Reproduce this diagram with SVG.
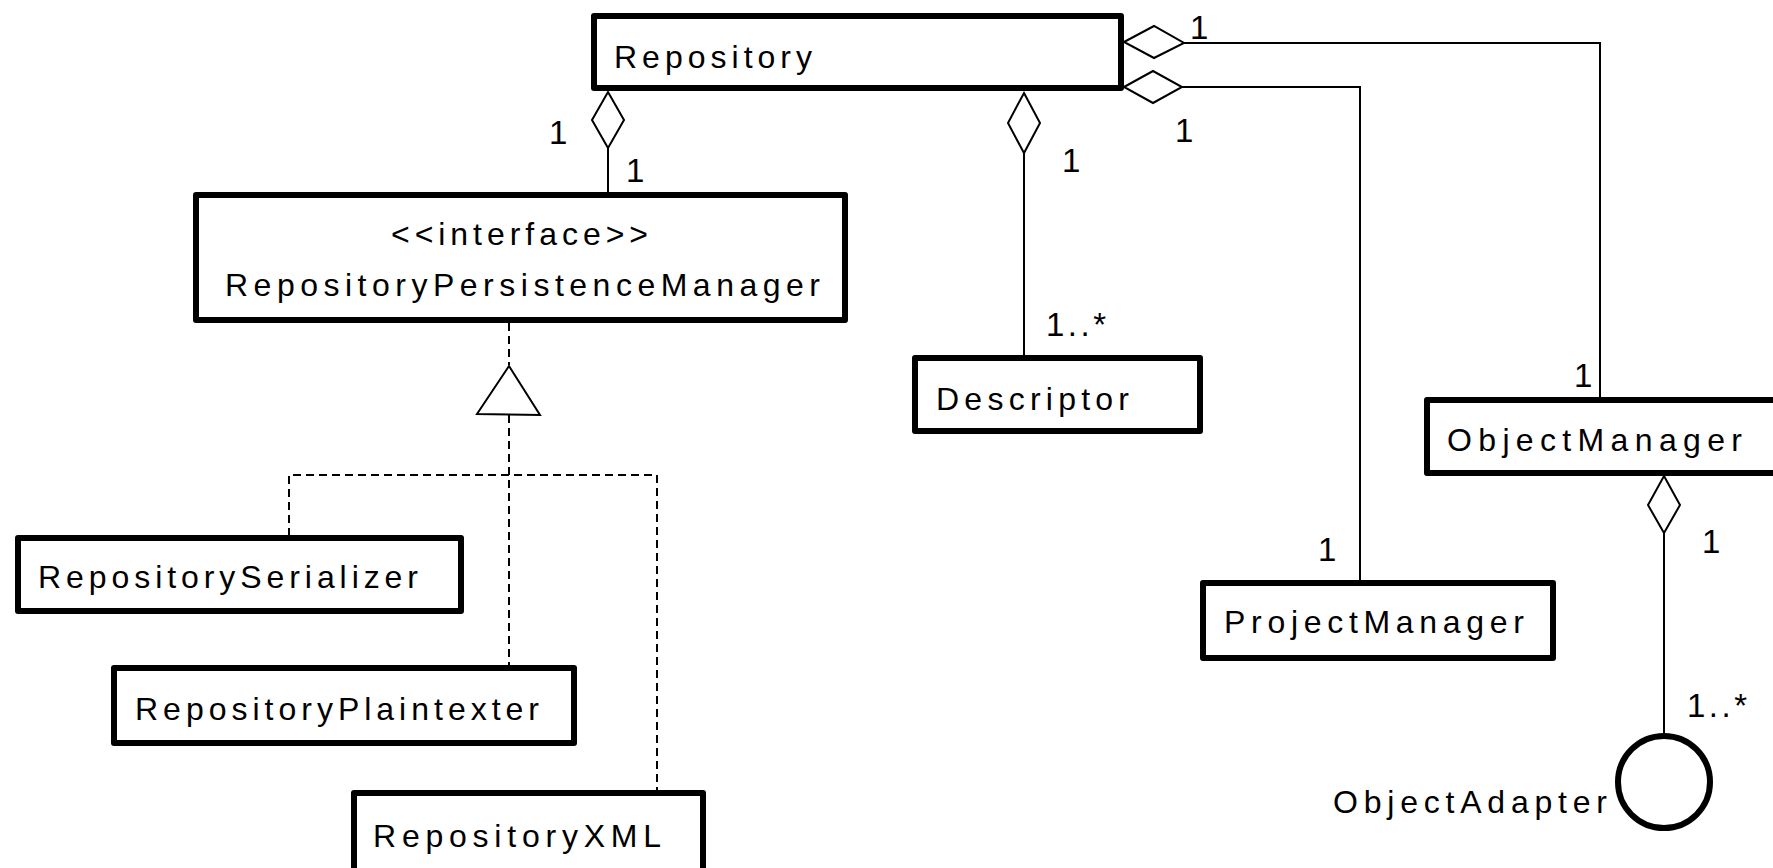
<svg xmlns="http://www.w3.org/2000/svg" width="1773" height="868" viewBox="0 0 1773 868">
  <style>
    .box { fill: #fff; stroke: #000; stroke-width: 6; stroke-linejoin: round; }
    .lbl { font-family: "Liberation Sans", Arial, sans-serif; font-size: 32px; fill: #000; }
    .mult { font-family: "Liberation Sans", Arial, sans-serif; font-size: 33px; fill: #000; }
    .line { fill: none; stroke: #000; stroke-width: 2; }
    .dash { fill: none; stroke: #000; stroke-width: 2; stroke-dasharray: 8 5; }
    .diamond { fill: #fff; stroke: #000; stroke-width: 2; stroke-linejoin: miter; }
    .tri { fill: #fff; stroke: #000; stroke-width: 2; }
  </style>
  <rect width="1773" height="868" fill="#fff"/>

  <!-- connectors -->
  <g id="connectors">
    <!-- Repository aggregates RepositoryPersistenceManager -->
    <line class="line" x1="608" y1="148" x2="608" y2="192"/>
    <polygon class="diamond" points="608,92 624,120 608,148 592,120"/>
    <text class="mult" x="549" y="144">1</text>
    <text class="mult" x="626" y="182">1</text>

    <!-- Repository aggregates Descriptor -->
    <line class="line" x1="1024" y1="153" x2="1024" y2="356"/>
    <polygon class="diamond" points="1024,93 1040,123 1024,153 1008,123"/>
    <text class="mult" x="1062" y="172">1</text>
    <text class="mult" x="1046" y="336" textLength="60" lengthAdjust="spacing">1..*</text>

    <!-- Repository aggregates ObjectManager -->
    <polyline class="line" points="1184,43 1600,43 1600,398"/>
    <polygon class="diamond" points="1124,42 1154,26 1184,43 1154,58"/>
    <text class="mult" x="1190" y="39">1</text>
    <text class="mult" x="1574" y="387">1</text>

    <!-- Repository aggregates ProjectManager -->
    <polyline class="line" points="1182,87 1360,87 1360,580"/>
    <polygon class="diamond" points="1124,87 1153,71 1182,87 1153,103"/>
    <text class="mult" x="1175" y="142">1</text>
    <text class="mult" x="1318" y="561">1</text>

    <!-- ObjectManager aggregates ObjectAdapter -->
    <line class="line" x1="1664" y1="533" x2="1664" y2="733"/>
    <polygon class="diamond" points="1664,476 1680,505 1664,533 1648,505"/>
    <text class="mult" x="1702" y="553">1</text>
    <text class="mult" x="1687" y="717" textLength="60" lengthAdjust="spacing">1..*</text>

    <!-- realization of RepositoryPersistenceManager -->
    <line class="dash" x1="509" y1="323" x2="509" y2="365"/>
    <polyline class="dash" points="289,536 289,475 657,475 657,792"/>
    <line class="dash" x1="509" y1="415" x2="509" y2="666"/>
    <polygon class="tri" points="509,366 540,415 477,414"/>
  </g>

  <g id="repository">
    <rect class="box" x="594" y="16" width="527" height="72"/>
    <text class="lbl" x="614" y="68" textLength="198" lengthAdjust="spacing">Repository</text>
  </g>

  <g id="repository-persistence-manager">
    <rect class="box" x="196" y="195" width="649" height="125"/>
    <text class="lbl" x="391" y="245" textLength="257" lengthAdjust="spacing">&lt;&lt;interface&gt;&gt;</text>
    <text class="lbl" x="225" y="296" textLength="595" lengthAdjust="spacing">RepositoryPersistenceManager</text>
  </g>

  <g id="descriptor">
    <rect class="box" x="915" y="358" width="285" height="73"/>
    <text class="lbl" x="936" y="410" textLength="193" lengthAdjust="spacing">Descriptor</text>
  </g>

  <g id="object-manager">
    <rect class="box" x="1427" y="400" width="400" height="73"/>
    <text class="lbl" x="1447" y="451" textLength="295" lengthAdjust="spacing">ObjectManager</text>
  </g>

  <g id="project-manager">
    <rect class="box" x="1203" y="583" width="350" height="75"/>
    <text class="lbl" x="1224" y="633" textLength="300" lengthAdjust="spacing">ProjectManager</text>
  </g>

  <g id="repository-serializer">
    <rect class="box" x="18" y="538" width="443" height="73"/>
    <text class="lbl" x="38" y="588" textLength="380" lengthAdjust="spacing">RepositorySerializer</text>
  </g>

  <g id="repository-plaintexter">
    <rect class="box" x="114" y="668" width="460" height="75"/>
    <text class="lbl" x="135" y="720" textLength="404" lengthAdjust="spacing">RepositoryPlaintexter</text>
  </g>

  <g id="repository-xml">
    <rect class="box" x="354" y="793" width="349" height="100"/>
    <text class="lbl" x="373" y="847" textLength="288" lengthAdjust="spacing">RepositoryXML</text>
  </g>

  <g id="object-adapter">
    <circle cx="1664" cy="782" r="46" fill="#fff" stroke="#000" stroke-width="6"/>
    <text class="lbl" x="1333" y="813" textLength="274" lengthAdjust="spacing">ObjectAdapter</text>
  </g>
</svg>
